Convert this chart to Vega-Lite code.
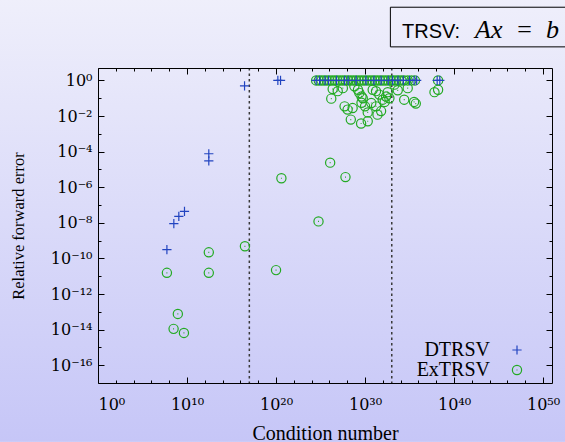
{
  "$schema": "https://vega.github.io/schema/vega-lite/v6.json",
  "width": 454,
  "height": 315,
  "autosize": {"type": "none"},
  "padding": {"left": 98, "top": 68, "right": 13, "bottom": 59},
  "background": "#dcdcf9",
  "config": {
    "view": {"stroke": null, "fill": null},
    "axis": {
      "domain": true,
      "domainColor": "#000000",
      "domainWidth": 1,
      "grid": false,
      "tickColor": "#000000",
      "tickWidth": 1,
      "labelFont": "DejaVu Serif",
      "labelFontSize": 16,
      "labelColor": "#000000",
      "titleFont": "Liberation Serif",
      "titleFontSize": 20,
      "titleFontWeight": "normal",
      "titleColor": "#000000"
    },
    "legend": {
      "orient": "none",
      "legendX": 409,
      "legendY": 272,
      "labelFont": "Liberation Serif",
      "labelFontSize": 20,
      "labelColor": "#000000",
      "labelAlign": "right",
      "labelOffset": -37,
      "symbolSize": 85,
      "symbolStrokeWidth": 1.2,
      "rowPadding": 0,
      "padding": 0
    }
  },
  "datasets": {
    "errors": [
      {"series": "ExTRSV", "cond": 3.2e24, "err": 1},
      {"series": "ExTRSV", "cond": 6.3e24, "err": 1},
      {"series": "ExTRSV", "cond": 1.26e25, "err": 1},
      {"series": "ExTRSV", "cond": 2.5e25, "err": 1},
      {"series": "ExTRSV", "cond": 5e25, "err": 1},
      {"series": "ExTRSV", "cond": 1e26, "err": 1},
      {"series": "ExTRSV", "cond": 2e26, "err": 1},
      {"series": "ExTRSV", "cond": 4e26, "err": 1},
      {"series": "ExTRSV", "cond": 7.9e26, "err": 1},
      {"series": "ExTRSV", "cond": 1.6e27, "err": 1},
      {"series": "ExTRSV", "cond": 3.2e27, "err": 1},
      {"series": "ExTRSV", "cond": 6.3e27, "err": 1},
      {"series": "ExTRSV", "cond": 1.26e28, "err": 1},
      {"series": "ExTRSV", "cond": 2.5e28, "err": 1},
      {"series": "ExTRSV", "cond": 5e28, "err": 1},
      {"series": "ExTRSV", "cond": 1e29, "err": 1},
      {"series": "ExTRSV", "cond": 2e29, "err": 1},
      {"series": "ExTRSV", "cond": 4e29, "err": 1},
      {"series": "ExTRSV", "cond": 7.9e29, "err": 1},
      {"series": "ExTRSV", "cond": 1.6e30, "err": 1},
      {"series": "ExTRSV", "cond": 3.2e30, "err": 1},
      {"series": "ExTRSV", "cond": 6.3e30, "err": 1},
      {"series": "ExTRSV", "cond": 1.26e31, "err": 1},
      {"series": "ExTRSV", "cond": 2.5e31, "err": 1},
      {"series": "ExTRSV", "cond": 5e31, "err": 1},
      {"series": "ExTRSV", "cond": 1e32, "err": 1},
      {"series": "ExTRSV", "cond": 2e32, "err": 1},
      {"series": "ExTRSV", "cond": 4e32, "err": 1},
      {"series": "ExTRSV", "cond": 7.9e32, "err": 1},
      {"series": "ExTRSV", "cond": 1.6e33, "err": 1},
      {"series": "ExTRSV", "cond": 3.2e33, "err": 1},
      {"series": "ExTRSV", "cond": 6.3e33, "err": 1},
      {"series": "ExTRSV", "cond": 1.26e34, "err": 1},
      {"series": "ExTRSV", "cond": 2.5e34, "err": 1},
      {"series": "ExTRSV", "cond": 6.3e34, "err": 1},
      {"series": "ExTRSV", "cond": 1.6e35, "err": 1},
      {"series": "ExTRSV", "cond": 4e35, "err": 1},
      {"series": "ExTRSV", "cond": 1.6e38, "err": 1},
      {"series": "ExTRSV", "cond": 2.3e26, "err": 0.33},
      {"series": "ExTRSV", "cond": 8.5e26, "err": 0.25},
      {"series": "ExTRSV", "cond": 3.2e27, "err": 0.37},
      {"series": "ExTRSV", "cond": 1.6e26, "err": 0.095},
      {"series": "ExTRSV", "cond": 5e27, "err": 0.035},
      {"series": "ExTRSV", "cond": 1.1e28, "err": 0.023},
      {"series": "ExTRSV", "cond": 4e28, "err": 0.028},
      {"series": "ExTRSV", "cond": 2.5e28, "err": 0.0063},
      {"series": "ExTRSV", "cond": 6.3e28, "err": 0.47},
      {"series": "ExTRSV", "cond": 1.6e29, "err": 0.3},
      {"series": "ExTRSV", "cond": 2.3e29, "err": 0.2},
      {"series": "ExTRSV", "cond": 4e29, "err": 0.126},
      {"series": "ExTRSV", "cond": 4e29, "err": 0.056},
      {"series": "ExTRSV", "cond": 5.5e29, "err": 0.1},
      {"series": "ExTRSV", "cond": 3.6e29, "err": 0.0038},
      {"series": "ExTRSV", "cond": 2e30, "err": 0.0051},
      {"series": "ExTRSV", "cond": 2e30, "err": 0.016},
      {"series": "ExTRSV", "cond": 1e30, "err": 0.035},
      {"series": "ExTRSV", "cond": 5e30, "err": 0.054},
      {"series": "ExTRSV", "cond": 7.2e30, "err": 0.3},
      {"series": "ExTRSV", "cond": 1.7e31, "err": 0.25},
      {"series": "ExTRSV", "cond": 1.7e31, "err": 0.035},
      {"series": "ExTRSV", "cond": 2.5e31, "err": 0.012},
      {"series": "ExTRSV", "cond": 6.3e31, "err": 0.019},
      {"series": "ExTRSV", "cond": 4e31, "err": 0.16},
      {"series": "ExTRSV", "cond": 9.5e31, "err": 0.083},
      {"series": "ExTRSV", "cond": 2.3e32, "err": 0.126},
      {"series": "ExTRSV", "cond": 3.5e32, "err": 0.22},
      {"series": "ExTRSV", "cond": 5.4e32, "err": 0.1},
      {"series": "ExTRSV", "cond": 1.6e32, "err": 0.062},
      {"series": "ExTRSV", "cond": 2e33, "err": 0.58},
      {"series": "ExTRSV", "cond": 4.7e33, "err": 0.28},
      {"series": "ExTRSV", "cond": 2.5e34, "err": 0.083},
      {"series": "ExTRSV", "cond": 6.2e34, "err": 0.37},
      {"series": "ExTRSV", "cond": 3.2e35, "err": 0.062},
      {"series": "ExTRSV", "cond": 5e35, "err": 0.05},
      {"series": "ExTRSV", "cond": 6.3e37, "err": 0.22},
      {"series": "ExTRSV", "cond": 1.6e38, "err": 0.3},
      {"series": "ExTRSV", "cond": 1.2e26, "err": 2.4e-5},
      {"series": "ExTRSV", "cond": 6.3e27, "err": 3.7e-6},
      {"series": "ExTRSV", "cond": 4e20, "err": 3.2e-6},
      {"series": "ExTRSV", "cond": 5.9e24, "err": 1.2e-8},
      {"series": "ExTRSV", "cond": 3.2e16, "err": 4.8e-10},
      {"series": "ExTRSV", "cond": 2.8e12, "err": 2.2e-10},
      {"series": "ExTRSV", "cond": 2.8e12, "err": 1.55e-11},
      {"series": "ExTRSV", "cond": 5.5e7, "err": 1.55e-11},
      {"series": "ExTRSV", "cond": 1e20, "err": 2.2e-11},
      {"series": "ExTRSV", "cond": 9.3e8, "err": 7.6e-14},
      {"series": "ExTRSV", "cond": 3.1e8, "err": 1.1e-14},
      {"series": "ExTRSV", "cond": 4.5e9, "err": 6.5e-15},
      {"series": "DTRSV", "cond": 5.5e7, "err": 3.1e-10},
      {"series": "DTRSV", "cond": 3.3e8, "err": 8.9e-9},
      {"series": "DTRSV", "cond": 1.2e9, "err": 2.3e-8},
      {"series": "DTRSV", "cond": 5.2e9, "err": 4.4e-8},
      {"series": "DTRSV", "cond": 2.8e12, "err": 3.0e-5},
      {"series": "DTRSV", "cond": 2.8e12, "err": 7.6e-5},
      {"series": "DTRSV", "cond": 2.9e16, "err": 0.5},
      {"series": "DTRSV", "cond": 1.6e20, "err": 1},
      {"series": "DTRSV", "cond": 3.2e20, "err": 1},
      {"series": "DTRSV", "cond": 3.2e24, "err": 1},
      {"series": "DTRSV", "cond": 7.9e24, "err": 1},
      {"series": "DTRSV", "cond": 3.2e25, "err": 1},
      {"series": "DTRSV", "cond": 7.9e25, "err": 1},
      {"series": "DTRSV", "cond": 6.3e26, "err": 1},
      {"series": "DTRSV", "cond": 5e27, "err": 1},
      {"series": "DTRSV", "cond": 1.26e28, "err": 1},
      {"series": "DTRSV", "cond": 1e29, "err": 1},
      {"series": "DTRSV", "cond": 1.26e30, "err": 1},
      {"series": "DTRSV", "cond": 1e31, "err": 1},
      {"series": "DTRSV", "cond": 6.3e31, "err": 1},
      {"series": "DTRSV", "cond": 4e32, "err": 1},
      {"series": "DTRSV", "cond": 1.26e33, "err": 1},
      {"series": "DTRSV", "cond": 5e33, "err": 1},
      {"series": "DTRSV", "cond": 2e34, "err": 1},
      {"series": "DTRSV", "cond": 1e35, "err": 1},
      {"series": "DTRSV", "cond": 3.2e35, "err": 1},
      {"series": "DTRSV", "cond": 6.3e35, "err": 1},
      {"series": "DTRSV", "cond": 1.26e38, "err": 1},
      {"series": "DTRSV", "cond": 2.5e38, "err": 1}
    ],
    "limits": [{"cond": 1e17}, {"cond": 1e33}]
  },
  "layer": [
    {
      "data": {"values": [{}]},
      "mark": {
        "type": "rect",
        "fill": {"gradient": "linear", "x1": 0, "y1": 0, "x2": 0, "y2": 1, "stops": [{"offset": 0, "color": "#efeffb"}, {"offset": 1, "color": "#c6c6f7"}]},
        "strokeWidth": 0
      },
      "encoding": {
        "x": {"datum": 6.3e-12, "type": "quantitative", "scale": {"type": "log", "domain": [1, 1e51], "nice": false}, "axis": null},
        "x2": {"datum": 3.2e52},
        "y": {"datum": 4e4, "type": "quantitative", "scale": {"type": "log", "domain": [1e-17, 5], "nice": false}, "axis": null},
        "y2": {"datum": 5e-21}
      }
    },
    {
      "data": {"name": "limits"},
      "mark": {"type": "rule", "color": "#3a3a3a", "strokeWidth": 1.5, "strokeDash": [2.5, 3]},
      "encoding": {
        "x": {
          "field": "cond", "type": "quantitative",
          "scale": {"type": "log", "domain": [1, 1e51], "nice": false},
          "axis": {
            "orient": "top", "labels": false, "title": null, "zindex": 1,
            "values": [1, 1e2, 1e4, 1e6, 1e8, 1e10, 1e12, 1e14, 1e16, 1e18, 1e20, 1e22, 1e24, 1e26, 1e28, 1e30, 1e32, 1e34, 1e36, 1e38, 1e40, 1e42, 1e44, 1e46, 1e48, 1e50],
            "tickSize": {"condition": {"test": "round(log(datum.value)/LN10) % 10 === 0", "value": -6}, "value": -3}
          }
        }
      }
    },
    {
      "data": {"values": [{}]},
      "mark": {"type": "rect", "fillOpacity": 0, "stroke": "#000000", "strokeWidth": 1},
      "encoding": {
        "x": {"datum": 7e32, "type": "quantitative", "scale": {"type": "log", "domain": [1, 1e51], "nice": false}, "axis": null},
        "x2": {"datum": 1e60},
        "y": {
          "datum": 1.3e4, "type": "quantitative",
          "scale": {"type": "log", "domain": [1e-17, 5], "nice": false},
          "axis": {
            "orient": "right", "labels": false, "title": null, "zindex": 1,
            "values": [1, 1e-1, 1e-2, 1e-3, 1e-4, 1e-5, 1e-6, 1e-7, 1e-8, 1e-9, 1e-10, 1e-11, 1e-12, 1e-13, 1e-14, 1e-15, 1e-16],
            "tickSize": {"condition": {"test": "round(log(datum.value)/LN10) % 2 === 0", "value": -6}, "value": -3}
          }
        },
        "y2": {"datum": 77}
      }
    },
    {
      "data": {"values": [{"label": "TRSV:"}]},
      "mark": {"type": "text", "align": "left", "baseline": "alphabetic", "font": "Liberation Sans", "fontSize": 20, "color": "#000000"},
      "encoding": {
        "x": {"datum": 1.4e34, "type": "quantitative", "scale": {"type": "log", "domain": [1, 1e51], "nice": false}, "axis": null},
        "y": {"datum": 251, "type": "quantitative", "scale": {"type": "log", "domain": [1e-17, 5], "nice": false}, "axis": null},
        "text": {"field": "label"}
      }
    },
    {
      "data": {"values": [{"label": "Ax\u2002=\u2002b"}]},
      "mark": {"type": "text", "align": "left", "baseline": "alphabetic", "font": "Liberation Serif", "fontStyle": "italic", "fontSize": 26, "color": "#000000"},
      "encoding": {
        "x": {"datum": 2.3e42, "type": "quantitative", "scale": {"type": "log", "domain": [1, 1e51], "nice": false}, "axis": null},
        "y": {"datum": 251, "type": "quantitative", "scale": {"type": "log", "domain": [1e-17, 5], "nice": false}, "axis": null},
        "text": {"field": "label"}
      }
    },
    {
      "data": {"name": "errors"},
      "mark": {"type": "point", "filled": false, "strokeWidth": 1.2, "size": 85, "opacity": 1},
      "encoding": {
        "x": {
          "field": "cond", "type": "quantitative",
          "scale": {"type": "log", "domain": [1, 1e51], "nice": false},
          "axis": {
            "orient": "bottom", "title": "Condition number", "zindex": 1,
            "values": [1, 1e2, 1e4, 1e6, 1e8, 1e10, 1e12, 1e14, 1e16, 1e18, 1e20, 1e22, 1e24, 1e26, 1e28, 1e30, 1e32, 1e34, 1e36, 1e38, 1e40, 1e42, 1e44, 1e46, 1e48, 1e50],
            "tickSize": {"condition": {"test": "round(log(datum.value)/LN10) % 10 === 0", "value": -6}, "value": -3},
            "labelPadding": 19,
            "labelExpr": "round(log(datum.value)/LN10) % 10 === 0 ? '10' + replace(replace(replace(replace(replace(replace(replace(replace(replace(replace(replace('' + round(log(datum.value)/LN10), regexp('-','g'), '⁻'), regexp('0','g'), '⁰'), regexp('1','g'), '¹'), regexp('2','g'), '²'), regexp('3','g'), '³'), regexp('4','g'), '⁴'), regexp('5','g'), '⁵'), regexp('6','g'), '⁶'), regexp('7','g'), '⁷'), regexp('8','g'), '⁸'), regexp('9','g'), '⁹') : ''",
            "titlePadding": 11
          }
        },
        "y": {
          "field": "err", "type": "quantitative",
          "scale": {"type": "log", "domain": [1e-17, 5], "nice": false},
          "axis": {
            "orient": "left", "title": "Relative forward error", "zindex": 1,
            "titleFontSize": 16.5,
            "values": [1, 1e-1, 1e-2, 1e-3, 1e-4, 1e-5, 1e-6, 1e-7, 1e-8, 1e-9, 1e-10, 1e-11, 1e-12, 1e-13, 1e-14, 1e-15, 1e-16],
            "tickSize": {"condition": {"test": "round(log(datum.value)/LN10) % 2 === 0", "value": -6}, "value": -3},
            "labelPadding": 12,
            "labelExpr": "round(log(datum.value)/LN10) % 2 === 0 ? '10' + replace(replace(replace(replace(replace(replace(replace(replace(replace(replace(replace('' + round(log(datum.value)/LN10), regexp('-','g'), '⁻'), regexp('0','g'), '⁰'), regexp('1','g'), '¹'), regexp('2','g'), '²'), regexp('3','g'), '³'), regexp('4','g'), '⁴'), regexp('5','g'), '⁵'), regexp('6','g'), '⁶'), regexp('7','g'), '⁷'), regexp('8','g'), '⁸'), regexp('9','g'), '⁹') : ''",
            "titlePadding": 24
          }
        },
        "color": {
          "field": "series", "type": "nominal",
          "scale": {"domain": ["DTRSV", "ExTRSV"], "range": ["#2244c0", "#22aa22"]},
          "legend": {"title": null}
        },
        "shape": {
          "field": "series", "type": "nominal",
          "scale": {"domain": ["DTRSV", "ExTRSV"], "range": ["M-1,0H1M0,-1V1", "M-1,0A1,1,0,1,0,1,0A1,1,0,1,0,-1,0M-0.1,0H0.1"]},
          "legend": {"title": null}
        }
      }
    }
  ],
  "resolve": {"axis": {"x": "independent", "y": "independent"}}
}
